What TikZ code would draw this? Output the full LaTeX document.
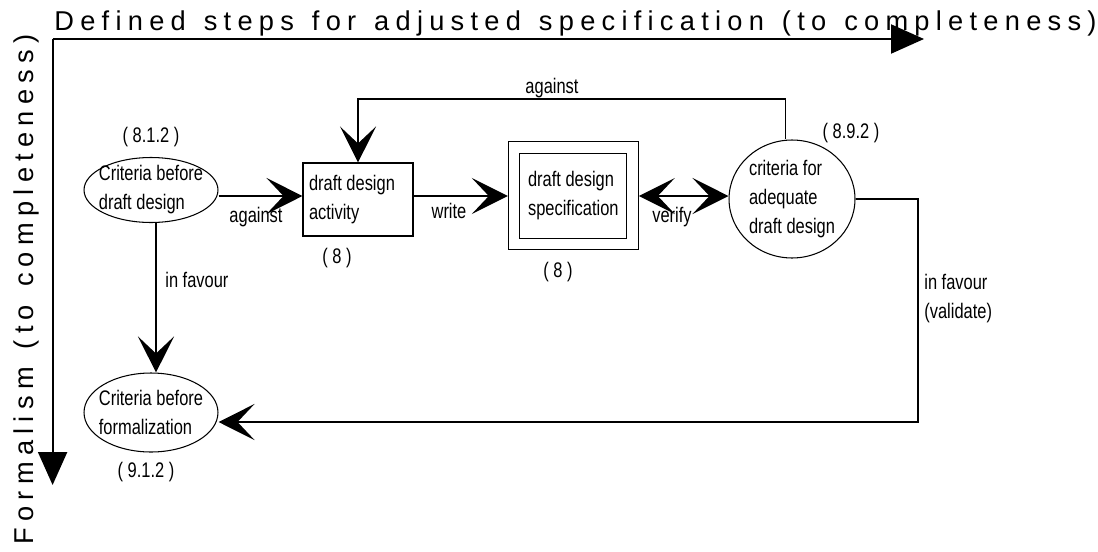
\documentclass[tikz,border=0pt]{standalone}
\usepackage{fontspec}
\setmainfont{Liberation Sans}[FakeStretch=0.78]
\newfontfamily\axisfont{Liberation Sans}[LetterSpace=23, WordSpace=1.3]
\usetikzlibrary{arrows.meta}
\usetikzlibrary{shapes.geometric}

\begin{document}
\begin{tikzpicture}[x=0.02cm, y=-0.02cm,
    font=\fontsize{12pt}{16.5pt}\selectfont,
    oval/.style={draw, ellipse, line width=0.6pt, inner sep=-2mm, align=left},
    stepbox/.style={draw, rectangle, line width=0.6pt, inner xsep=0.12cm, inner ysep=0pt,
        text width=1.96cm, minimum height=1.46cm, align=flush left},
    lbl/.style={inner sep=0pt, align=left},
    axislbl/.style={anchor=base, inner sep=0pt, font=\axisfont\fontsize{15.5pt}{18pt}\selectfont},
    flow/.style={line width=1.2pt, -{Stealth[length=0.72cm, width=0.72cm, inset=0.34cm]}},
    twoway/.style={line width=1.2pt, {Stealth[length=0.72cm, width=0.72cm, inset=0.34cm]}-{Stealth[length=0.72cm, width=0.72cm, inset=0.34cm]}},
    thinflow/.style={flow, line width=0.6pt},
    axis/.style={line width=1.2pt, -{Triangle[length=0.66cm, width=0.58cm]}}]
    \useasboundingbox (0,0) rectangle (1098,551);
    % Axes with their titles
    \coordinate (origin) at (52.6,39);
    \coordinate (xend) at (924,39);
    \coordinate (yend) at (52.6,485);
    \draw[axis] (origin) -- (xend);
    \draw[axis] (origin) -- (yend);
    \node (xtitle) [axislbl] at (575.5,31) {Defined steps for adjusted specification (to completeness)};
    \node (ytitle) [axislbl, rotate=90] at (33,289.5) {Formalism (to completeness)};
    % Criteria and activities
    \node (crit0) [oval, minimum width=2.68cm, minimum height=1.3cm] at (151,190) {Criteria before\\draft design};
    \node (activity) [stepbox] at (358,199.5) {draft design\\activity};
    \node (spec) [draw, line width=0.6pt, double, double distance=0.21cm, outer sep=0.125cm,
        minimum width=2.37cm, minimum height=1.93cm, align=left] at (573.3,195.8) {draft design\\specification};
    \node (crit1) [oval, minimum width=2.52cm, minimum height=2.36cm] at (792,199) {criteria for\\adequate\\draft design};
    \node (crit2) [oval, minimum width=2.68cm, minimum height=1.58cm] at (151,412.5) {Criteria before\\formalization};
    % Section numbers
    \node (n0) [lbl] at (151,137) {( 8.1.2 )};
    \node (n1) [lbl] at (337,258) {( 8 )};
    \node (n2) [lbl] at (558,272) {( 8 )};
    \node (n3) [lbl] at (851,133) {( 8.9.2 )};
    \node (n4) [lbl] at (146,472) {( 9.1.2 )};
    % Main row
    \coordinate (row) at (0,196);
    \draw[flow] (crit0.east |- row) -- (activity.west |- row);
    \node (against0) [lbl] at (256,217) {against};
    \draw[flow] (activity.east |- row) -- (spec.west |- row);
    \node (write) [lbl] at (449,211) {write};
    \draw[twoway] (spec.east |- row) -- (crit1.west |- row);
    \node (verify) [lbl] at (672,217) {verify};
    % Back to the activity
    \coordinate (top) at (0,99);
    \draw[thinflow] ([xshift=-0.13cm]crit1.north) -- ([xshift=-0.13cm]crit1.north |- top) -| (activity.north);
    \node (against1) [lbl] at (552,88) {against};
    % Towards formalization
    \draw[flow] ([xshift=0.1cm]crit0.south) -- ([xshift=0.1cm]crit2.north);
    \node (favour0) [lbl, anchor=west] at (165,280) {in favour};
    \coordinate (ret) at (918,422);
    \draw[flow] (crit1.east) -| (ret) -- (crit2.east |- ret);
    \node (favour1) [lbl, anchor=north west] at (924,274) {in favour\\(validate)};
\end{tikzpicture}
\end{document}
